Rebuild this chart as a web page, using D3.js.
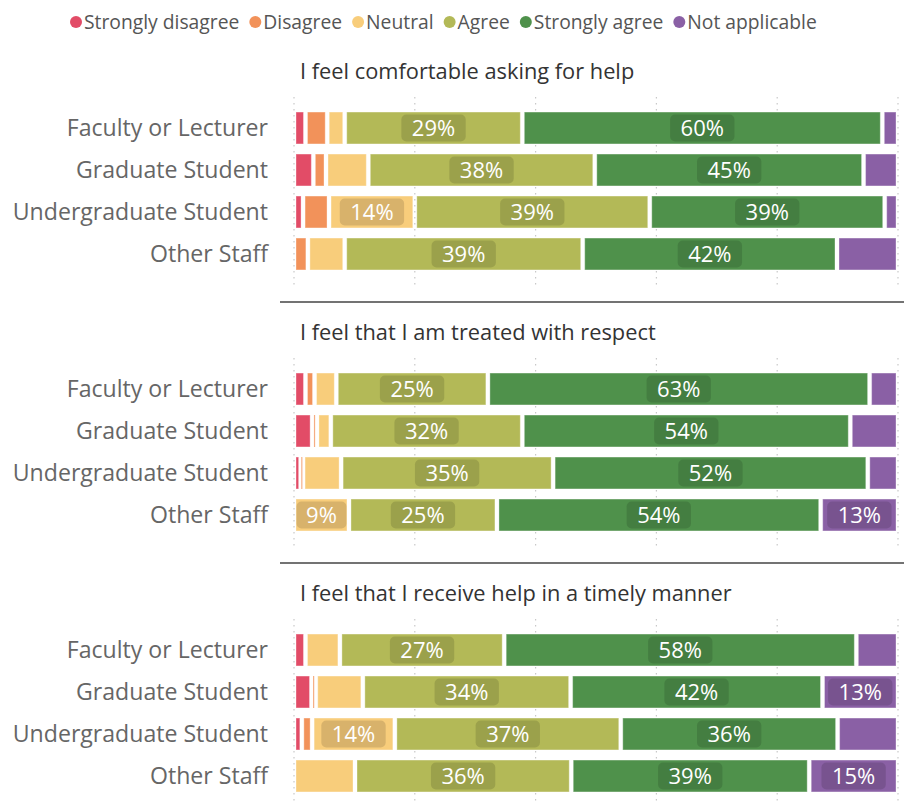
<!DOCTYPE html>
<html>
<head>
<meta charset="utf-8">
<script src="https://cdn.jsdelivr.net/npm/d3@7"></script>
<style>
  body { margin: 0; background: #fff; }
  text { font-family: "Open Sans", sans-serif; }
</style>
</head>
<body>
<svg class="theSvg" width="904" height="803"></svg>
<script>
var categories = ["Strongly disagree", "Disagree", "Neutral", "Agree", "Strongly agree", "Not applicable"];
var catColors = ["#e24c67", "#f2925a", "#f8cd7b", "#b3b957", "#4f914b", "#8a60a5"];
var groups = ["Faculty or Lecturer", "Graduate Student", "Undergraduate Student", "Other Staff"];
var questions = ["I feel comfortable asking for help", "I feel that I am treated with respect", "I feel that I receive help in a timely manner"];

// percent per group, in category order
var comfortable = [
	[1.9, 3.6, 2.9, 29.4, 59.6, 2.6],
	[3.2, 2.1, 7.0, 37.5, 44.5, 5.7],
	[1.5, 4.3, 14.2, 38.9, 38.9, 2.2],
	[0, 2.3, 6.1, 39.4, 42.1, 10.1]
];
var respect = [
	[1.9, 1.5, 3.6, 25.1, 63.2, 4.7],
	[3.0, 0.8, 2.3, 31.7, 54.3, 7.9],
	[1.1, 0.4, 6.3, 35.1, 52.1, 5.0],
	[0, 0, 9.1, 24.5, 53.6, 12.8]
];
var timely = [
	[1.9, 0, 5.7, 27.2, 58.3, 6.9],
	[2.9, 0.7, 7.8, 34.4, 41.7, 12.5],
	[1.3, 1.7, 13.7, 37.4, 35.9, 10.0],
	[0, 0, 10.1, 35.8, 39.4, 14.7]
];
var questionData = [comfortable, respect, timely];
// [question, group, category] cells that carry no label in the original
var hiddenLabels = [[0, 3, 5], [2, 2, 5], [2, 3, 2]];
var labelMin = 9;

var panelHeight = 261;
var gap = 4;

var theSvg = d3.select(".theSvg");

var x = d3.scaleLinear().domain([0, 100]).range([294, 898]);
var y = d3.scaleBand().domain(groups).range([107, 275]).paddingInner(0.24).paddingOuter(0.12);

// legend
var legend = theSvg.append("g").attr("transform", "translate(0,22)");
var lx = 70;
categories.forEach(function(c, i){
	var item = legend.append("g").attr("transform", "translate(" + lx + ",0)");
	item.append("circle").attr("cx", 6).attr("cy", 0).attr("r", 6).attr("fill", catColors[i]);
	var t = item.append("text")
		.attr("x", 14)
		.attr("dy", "0.35em")
		.attr("font-size", 19.3)
		.attr("fill", "#555")
		.text(c);
	lx += 14 + t.node().getComputedTextLength() + 10;
});

questions.forEach(function(q, qi){
	var panel = theSvg.append("g").attr("transform", "translate(0," + (qi * panelHeight) + ")");
	var rows = questionData[qi];

	panel.append("text")
		.attr("x", 300)
		.attr("y", 79)
		.attr("font-size", 21.8)
		.attr("fill", "#333")
		.text(q);

	// dotted grid
	panel.selectAll(".grid")
		.data(x.ticks(5))
		.enter()
		.append("line")
		.attr("class", "grid")
		.attr("x1", function(d){ return x(d); })
		.attr("x2", function(d){ return x(d); })
		.attr("y1", 97)
		.attr("y2", 289)
		.attr("stroke", "#c8c8c8")
		.attr("stroke-width", 1.2)
		.attr("stroke-dasharray", "1.5,4.5");

	// group labels
	panel.selectAll(".ylab")
		.data(groups)
		.enter()
		.append("text")
		.attr("class", "ylab")
		.attr("x", 268)
		.attr("y", function(d){ return y(d) + y.bandwidth() / 2; })
		.attr("dy", "0.35em")
		.attr("text-anchor", "end")
		.attr("font-size", 23.1)
		.attr("fill", "#666")
		.text(function(d){ return d; });

	rows.forEach(function(vals, gi){
		var acc = 0;
		var segs = vals.map(function(v, ci){
			var s = {v: v, ci: ci, gi: gi, x0: acc, x1: acc + v};
			acc += v;
			return s;
		}).filter(function(s){ return s.v > 0; });

		var g = panel.append("g").attr("transform", "translate(0," + y(groups[gi]) + ")");

		var seg = g.selectAll(".seg")
			.data(segs)
			.enter()
			.append("g")
			.attr("class", "seg");

		seg.append("rect")
			.attr("x", function(d){
				var w = x(d.x1) - x(d.x0);
				var rw = Math.max(1.2, w - gap);
				return x(d.x0) + (w - rw) / 2;
			})
			.attr("y", 0)
			.attr("width", function(d){ return Math.max(1.2, x(d.x1) - x(d.x0) - gap); })
			.attr("height", y.bandwidth())
			.attr("fill", function(d){ return catColors[d.ci]; })
			.attr("stroke", "#fff")
			.attr("stroke-opacity", 0.35)
			.attr("stroke-width", 1);

		var labelled = seg.filter(function(d){
			if (d.v < labelMin) return false;
			return !hiddenLabels.some(function(h){ return h[0] == qi && h[1] == d.gi && h[2] == d.ci; });
		});

		labelled.each(function(d){
			var cx = (x(d.x0) + x(d.x1)) / 2;
			var segW = x(d.x1) - x(d.x0) - gap;
			var sel = d3.select(this);
			var badge = sel.append("rect");
			var t = sel.append("text")
				.attr("x", cx)
				.attr("y", y.bandwidth() / 2)
				.attr("dy", "0.36em")
				.attr("text-anchor", "middle")
				.attr("font-size", 22)
				.attr("fill", "#fff")
				.text(Math.round(d.v) + "%");
			var bw = Math.min(t.node().getComputedTextLength() + 21, segW - 1);
			badge.attr("x", cx - bw / 2)
				.attr("y", 2.5)
				.attr("width", bw)
				.attr("height", y.bandwidth() - 5)
				.attr("rx", 5)
				.attr("fill", "#000")
				.attr("fill-opacity", 0.13);
		});
	});

	// separator under panel
	if (qi < questions.length - 1) {
		panel.append("line")
			.attr("x1", 280)
			.attr("x2", 904)
			.attr("y1", 302)
			.attr("y2", 302)
			.attr("stroke", "#444")
			.attr("stroke-width", 1.6);
	}
});
</script>
</body>
</html>
